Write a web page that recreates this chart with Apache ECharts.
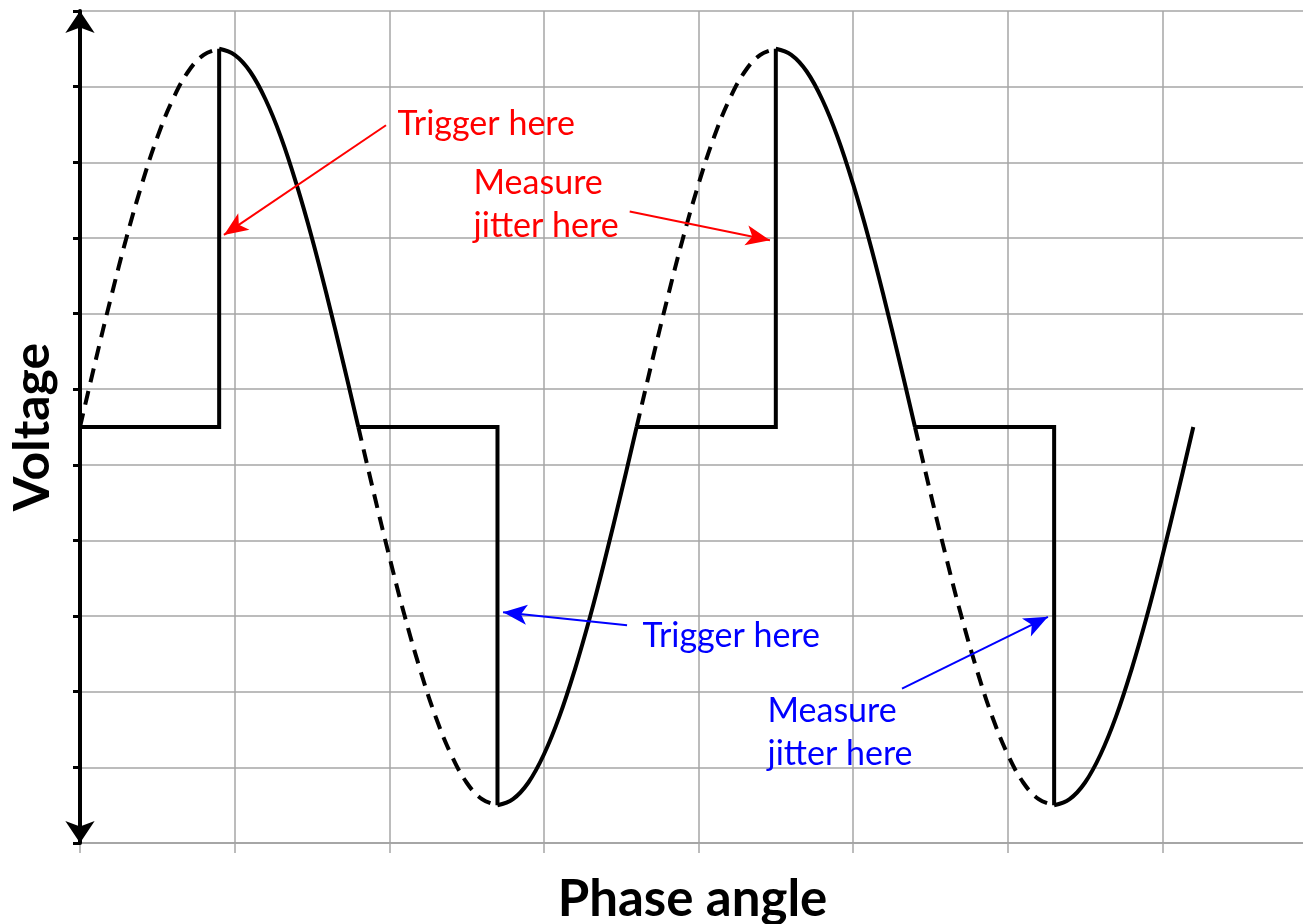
<!DOCTYPE html>
<html lang="en">
  <head>
    <meta charset="UTF-8" />
    <title>phase control jitter</title>
    <style>
      html,
      body {
        margin: 0;
        padding: 0;
        background: #fff;
      }
      main {
        width: 1303px;
        height: 924px;
      }
    </style>
  </head>
  <body>
    <main></main>
    <script src="https://cdn.jsdelivr.net/npm/echarts@6/dist/echarts.min.js"></script>
    <script>
      // phase angle (deg) and the mains sine (grid units)
      const phaseDeg = [
        0, 10, 20, 30, 40, 50, 60, 70, 80, 90, 100, 110, 120, 130, 140, 150, 160, 170,
        180, 190, 200, 210, 220, 230, 240, 250, 260, 270, 280, 290, 300, 310, 320, 330, 340, 350,
        360, 370, 380, 390, 400, 410, 420, 430, 440, 450, 460, 470, 480, 490, 500, 510, 520, 530,
        540, 550, 560, 570, 580, 590, 600, 610, 620, 630, 640, 650, 660, 670, 680, 690, 700, 710, 720,
      ];
      const sineVolts = [
        5.5, 6.37, 7.21, 8.0, 8.71, 9.33, 9.83, 10.2, 10.42, 10.5, 10.42, 10.2, 9.83, 9.33, 8.71, 8.0, 7.21, 6.37,
        5.5, 4.63, 3.79, 3.0, 2.29, 1.67, 1.17, 0.8, 0.58, 0.5, 0.58, 0.8, 1.17, 1.67, 2.29, 3.0, 3.79, 4.63,
        5.5, 6.37, 7.21, 8.0, 8.71, 9.33, 9.83, 10.2, 10.42, 10.5, 10.42, 10.2, 9.83, 9.33, 8.71, 8.0, 7.21, 6.37,
        5.5, 4.63, 3.79, 3.0, 2.29, 1.67, 1.17, 0.8, 0.58, 0.5, 0.58, 0.8, 1.17, 1.67, 2.29, 3.0, 3.79, 4.63, 5.5,
      ];
      const zeroCrossDeg = [0, 180, 360, 540, 720];
      const triggerDeg = [90, 270, 450, 630];
      const restVolts = 5.5;

      // annotations, in axis units
      const noteText = ["Trigger here", "Measure\njitter here", "Trigger here", "Measure\njitter here"];
      const noteAt = [[205.0, 9.5], [254.2, 8.44], [363.5, 2.74], [444.3, 1.46]];
      const arrowFrom = [[197.9, 9.49], [355.5, 8.35], [353.8, 2.88], [531.6, 2.04]];
      const arrowTo = [[93.1, 8.04], [446.2, 7.97], [273.6, 3.05], [626.0, 2.99]];
      const noteColor = ["#ff0000", "#ff0000", "#0000ff", "#0000ff"];

      const volts = (d) => sineVolts[phaseDeg.indexOf(d)];
      const between = (a, b) => phaseDeg.filter((d) => d >= a && d <= b).map((d) => [d, volts(d)]);

      const solid = { color: "#000", width: 4, join: "miter" };
      const dashed = { color: "#000", width: 4, type: [14, 9] };
      const series = [];
      triggerDeg.forEach((t, i) => {
        const z0 = zeroCrossDeg[i];
        const z1 = zeroCrossDeg[i + 1];
        // sine the triac is not passing yet
        series.push({ type: "line", data: between(z0, t), smooth: 0.4, showSymbol: false, lineStyle: dashed });
        // output sits at rest, then jumps when fired
        series.push({
          type: "line",
          data: [[z0, restVolts], [t, restVolts], [t, volts(t)]],
          showSymbol: false,
          lineStyle: solid,
        });
        // conducting until the next zero crossing
        series.push({ type: "line", data: between(t, z1), smooth: 0.4, showSymbol: false, lineStyle: solid });
      });

      series.push({
        type: "line",
        data: [],
        silent: true,
        markLine: {
          silent: true,
          animation: false,
          symbol: ["none", "arrow"],
          symbolSize: [15, 24],
          label: { show: false },
          emphasis: { disabled: true },
          lineStyle: { type: "solid", width: 2 },
          data: arrowFrom.map((f, i) => [
            { coord: f, lineStyle: { color: noteColor[i] }, itemStyle: { color: noteColor[i] } },
            { coord: arrowTo[i] },
          ]),
        },
        markPoint: {
          silent: true,
          animation: false,
          symbol: "circle",
          symbolSize: 1,
          itemStyle: { color: "rgba(0,0,0,0)" },
          label: {
            show: true,
            position: "right",
            distance: 0,
            formatter: "{b}",
            fontFamily: "Lato",
            fontSize: 34,
            lineHeight: 43,
            align: "left",
            verticalAlign: "middle",
          },
          data: noteText.map((s, i) => ({ name: s, coord: noteAt[i], label: { color: noteColor[i] } })),
        },
      });

      const chart = echarts.init(document.querySelector("main"));
      chart.setOption({
        animation: false,
        grid: { left: 80, top: 11, right: -14, bottom: 81, outerBoundsMode: "none" },
        xAxis: {
          type: "value",
          min: 0,
          max: 800,
          interval: 100,
          name: "Phase angle",
          nameLocation: "middle",
          nameGap: 31,
          nameTextStyle: {
            fontFamily: "Lato",
            fontWeight: "bold",
            fontSize: 51,
            color: "#000",
            padding: [0, 12, 0, 0],
          },
          axisLabel: { show: false },
          axisLine: { show: true, lineStyle: { color: "#8c8c8c", width: 1.5 } },
          axisTick: { show: true, length: 10, lineStyle: { color: "#a6a6a6", width: 1.5 } },
          splitLine: { show: true, lineStyle: { color: "#a6a6a6", width: 1.5 } },
        },
        yAxis: {
          type: "value",
          z: 1,
          min: 0,
          max: 11,
          interval: 1,
          name: "Voltage",
          nameLocation: "middle",
          nameRotate: 90,
          nameGap: 22,
          nameTextStyle: { fontFamily: "Lato", fontWeight: "bold", fontSize: 50, color: "#000" },
          axisLabel: { show: false },
          axisLine: {
            show: true,
            symbol: ["arrow", "arrow"],
            symbolSize: [22, 22],
            symbolOffset: [0, 0],
            lineStyle: { color: "#000", width: 4 },
          },
          axisTick: { show: true, length: 7, lineStyle: { color: "#000", width: 3 } },
          splitLine: { show: true, lineStyle: { color: "#a6a6a6", width: 1.5 } },
        },
        series: series,
      });
    </script>
  </body>
</html>
